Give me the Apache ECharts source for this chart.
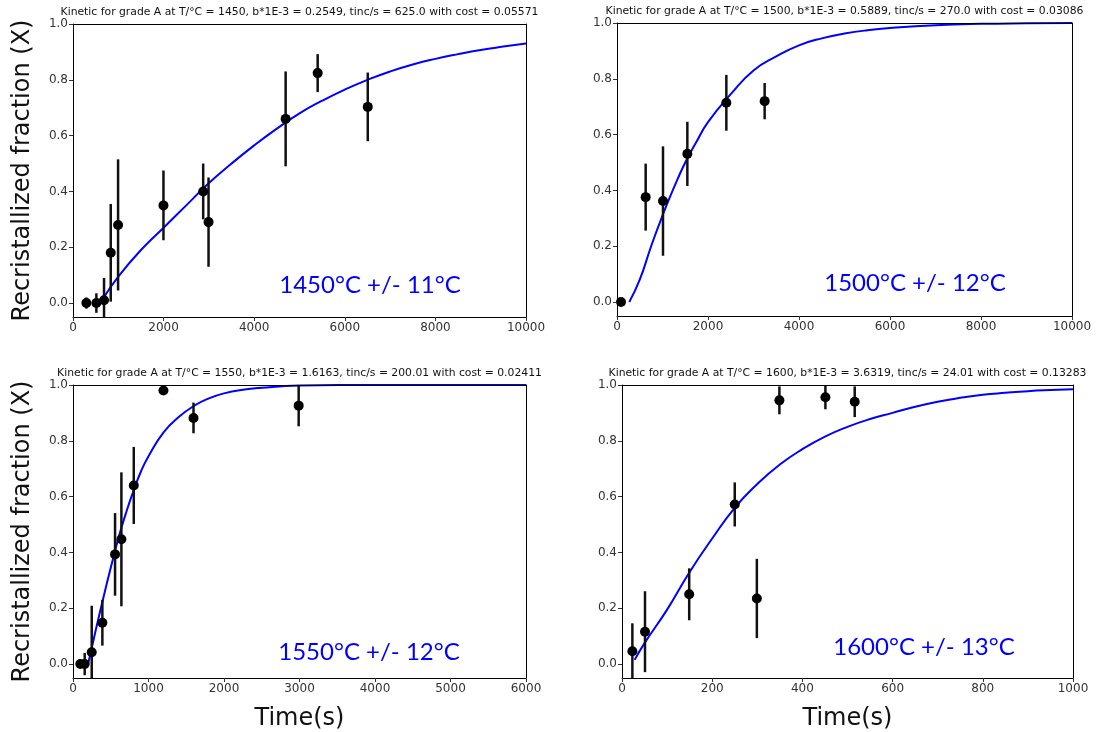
<!DOCTYPE html>
<html>
<head>
<meta charset="utf-8">
<script src="https://cdn.jsdelivr.net/npm/echarts@6/dist/echarts.min.js"></script>
<style>
html,body{margin:0;padding:0;background:#fff;}
#c{width:1098px;height:732px;}
</style>
</head>
<body>
<div id="c"></div>
<script>
// ---- texts ----
const titles = [
  'Kinetic for grade A at T/°C = 1450, b*1E-3 = 0.2549, tinc/s = 625.0 with cost = 0.05571',
  'Kinetic for grade A at T/°C = 1500, b*1E-3 = 0.5889, tinc/s = 270.0 with cost = 0.03086',
  'Kinetic for grade A at T/°C = 1550, b*1E-3 = 1.6163, tinc/s = 200.01 with cost = 0.02411',
  'Kinetic for grade A at T/°C = 1600, b*1E-3 = 3.6319, tinc/s = 24.01 with cost = 0.13283'
];
const annotations = ['1450°C +/- 11°C', '1500°C +/- 12°C', '1550°C +/- 12°C', '1600°C +/- 13°C'];
const yLabel = 'Recristallized fraction (X)';
const xLabel = 'Time(s)';

// ---- axes ----
const xMax = [10000, 10000, 6000, 1000];
const xStep = [2000, 2000, 1000, 200];
const yMin = -0.05, yMax = 1.0;
const yTicks = [0, 0.2, 0.4, 0.6, 0.8, 1.0];

// ---- panel 1 (1450 °C) ----
const p1Time = [295, 516, 685, 833, 995, 1997, 2874, 2992, 4694, 5401, 6507];
const p1Frac = [0, 0, 0.01, 0.18, 0.28, 0.35, 0.40, 0.29, 0.66, 0.824, 0.703];
const p1Err  = [0.02, 0.035, 0.08, 0.175, 0.235, 0.125, 0.10, 0.16, 0.17, 0.068, 0.123];
const p1FitT = [700, 1000, 1500, 2000, 2500, 3000, 3500, 4000, 4500, 5000, 5500, 6000, 6500, 7000, 7500, 8000, 8500, 9000, 9500, 10000];
const p1FitX = [0.025, 0.095, 0.19, 0.27, 0.35, 0.43, 0.50, 0.565, 0.625, 0.68, 0.725, 0.765, 0.80, 0.83, 0.855, 0.875, 0.892, 0.907, 0.919, 0.93];

// ---- panel 2 (1500 °C) ----
const p2Time = [88, 630, 1011, 1546, 2403, 3245];
const p2Frac = [0, 0.376, 0.362, 0.531, 0.714, 0.72];
const p2Err  = [0.005, 0.12, 0.196, 0.115, 0.10, 0.065];
const p2FitT = [270, 500, 750, 1000, 1250, 1500, 1750, 2000, 2500, 3000, 3500, 4000, 4500, 5000, 5500, 6000, 7000, 8000, 9000, 10000];
const p2FitX = [0, 0.08, 0.20, 0.31, 0.41, 0.50, 0.575, 0.645, 0.745, 0.83, 0.88, 0.92, 0.945, 0.962, 0.974, 0.982, 0.992, 0.997, 0.999, 1.0];

// ---- panel 3 (1550 °C) ----
const p3Time = [97, 155, 248, 389, 557, 641, 805, 1198, 1596, 2989];
const p3Frac = [0, 0, 0.042, 0.148, 0.393, 0.447, 0.64, 0.98, 0.882, 0.926];
const p3Err  = [0.005, 0.04, 0.167, 0.082, 0.148, 0.24, 0.138, 0.005, 0.055, 0.074];
const p3FitT = [200, 300, 400, 500, 600, 700, 800, 900, 1000, 1200, 1400, 1600, 1800, 2000, 2250, 2500, 3000, 3500, 6000];
const p3FitX = [0, 0.12, 0.235, 0.345, 0.45, 0.54, 0.62, 0.69, 0.745, 0.83, 0.885, 0.925, 0.952, 0.97, 0.983, 0.99, 0.998, 1.0, 1.0];

// ---- panel 4 (1600 °C) ----
const p4Time = [23, 51, 149, 250, 299, 349, 451, 516];
const p4Frac = [0.046, 0.116, 0.25, 0.572, 0.235, 0.945, 0.956, 0.94];
const p4Err  = [0.10, 0.145, 0.093, 0.079, 0.142, 0.05, 0.043, 0.055];
const p4FitT = [28, 50, 100, 150, 200, 250, 300, 350, 400, 450, 500, 550, 600, 650, 700, 750, 800, 850, 900, 950, 1000];
const p4FitX = [0.015, 0.075, 0.195, 0.33, 0.45, 0.56, 0.645, 0.715, 0.77, 0.815, 0.85, 0.878, 0.90, 0.922, 0.94, 0.954, 0.965, 0.972, 0.978, 0.982, 0.985];

const panels = [
  {t: p1Time, x: p1Frac, e: p1Err, ft: p1FitT, fx: p1FitX},
  {t: p2Time, x: p2Frac, e: p2Err, ft: p2FitT, fx: p2FitX},
  {t: p3Time, x: p3Frac, e: p3Err, ft: p3FitT, fx: p3FitX},
  {t: p4Time, x: p4Frac, e: p4Err, ft: p4FitT, fx: p4FitX}
];

// ---- layout ----
const grids = [
  {left: 73, top: 24, width: 453, height: 293},
  {left: 617, top: 23, width: 455, height: 293},
  {left: 73, top: 385, width: 453, height: 293},
  {left: 622, top: 385, width: 451, height: 293}
];
const annotPos = [[370, 285], [915, 283], [369, 652], [924, 647]];

const FONT = 'DejaVu Sans';
const chart = echarts.init(document.getElementById('c'), null, {renderer: 'canvas'});

const xAxes = [], yAxes = [], series = [], graphics = [];
grids.forEach((g, i) => {
  const bottomRow = i >= 2, leftCol = (i % 2 === 0);
  xAxes.push({
    type: 'value', gridIndex: i, min: 0, max: xMax[i], interval: xStep[i], position: 'bottom', z: 10,
    axisLine: {show: true, onZero: false, lineStyle: {color: '#000', width: 1}},
    axisTick: {show: true, length: 4, lineStyle: {color: '#333'}},
    axisLabel: {color: '#333', fontFamily: FONT, fontSize: 12, margin: 5, formatter: v => String(v)},
    splitLine: {show: false},
    name: bottomRow ? xLabel : '', nameLocation: 'middle', nameGap: 29,
    nameTextStyle: {fontFamily: FONT, fontSize: 24, color: '#111'}
  });
  xAxes.push({
    type: 'value', gridIndex: i, min: 0, max: xMax[i], position: 'top', z: 10,
    axisLine: {show: true, onZero: false, lineStyle: {color: '#000', width: 1}},
    axisTick: {show: false}, axisLabel: {show: false}, splitLine: {show: false}
  });
  yAxes.push({
    type: 'value', gridIndex: i, min: yMin, max: yMax, position: 'left', z: 10,
    axisLine: {show: true, onZero: false, lineStyle: {color: '#000', width: 1}},
    axisTick: {show: true, length: 4, customValues: yTicks, lineStyle: {color: '#333'}},
    axisLabel: {color: '#333', fontFamily: FONT, fontSize: 12, margin: 5, customValues: yTicks,
      formatter: v => Number(v).toFixed(1)},
    splitLine: {show: false},
    name: leftCol ? yLabel : '', nameLocation: 'middle', nameGap: 38, nameRotate: 90,
    nameTextStyle: {fontFamily: FONT, fontSize: 24, color: '#111'}
  });
  yAxes.push({
    type: 'value', gridIndex: i, min: yMin, max: yMax, position: 'right', z: 10,
    axisLine: {show: true, onZero: false, lineStyle: {color: '#000', width: 1}},
    axisTick: {show: false}, axisLabel: {show: false}, splitLine: {show: false}
  });

  const p = panels[i];
  const xi = i * 2, yi = i * 2;
  // fit curve
  series.push({
    type: 'line', xAxisIndex: xi, yAxisIndex: yi, showSymbol: false, symbol: 'none',
    smooth: 0.5, clip: true, z: 3,
    lineStyle: {color: '#0000ff', width: 2},
    data: p.ft.map((t, k) => [t, p.fx[k]])
  });
  // error bars
  series.push({
    type: 'custom', xAxisIndex: xi, yAxisIndex: yi, clip: true, z: 4,
    data: p.t.map((t, k) => [t, p.x[k], p.e[k]]),
    encode: {x: 0, y: 1},
    renderItem: function (params, api) {
      const xv = api.value(0), yv = api.value(1), ev = api.value(2);
      const a = api.coord([xv, yv + ev]);
      const b = api.coord([xv, yv - ev]);
      return {type: 'line', shape: {x1: a[0], y1: a[1], x2: b[0], y2: b[1]},
        style: {stroke: '#111', lineWidth: 2.5}};
    }
  });
  // points
  series.push({
    type: 'scatter', xAxisIndex: xi, yAxisIndex: yi, symbol: 'circle', symbolSize: 10, z: 5,
    itemStyle: {color: '#000', opacity: 1},
    data: p.t.map((t, k) => [t, p.x[k]])
  });

  graphics.push({
    type: 'text', x: g.left + g.width / 2, y: g.top - 12,
    style: {text: titles[i], font: '10.8px "' + FONT + '"', fill: '#111',
      align: 'center', verticalAlign: 'middle', textAlign: 'center', textVerticalAlign: 'middle'}
  });
  graphics.push({
    type: 'text', x: annotPos[i][0], y: annotPos[i][1], z: 20,
    style: {text: annotations[i], font: '24px Lato', fill: '#0000ff',
      align: 'center', verticalAlign: 'middle', textAlign: 'center', textVerticalAlign: 'middle'}
  });
});

chart.setOption({
  animation: false,
  backgroundColor: '#fff',
  grid: grids.map(g => Object.assign({containLabel: false}, g)),
  xAxis: xAxes,
  yAxis: yAxes,
  series: series,
  graphic: {elements: graphics}
});
</script>
</body>
</html>
